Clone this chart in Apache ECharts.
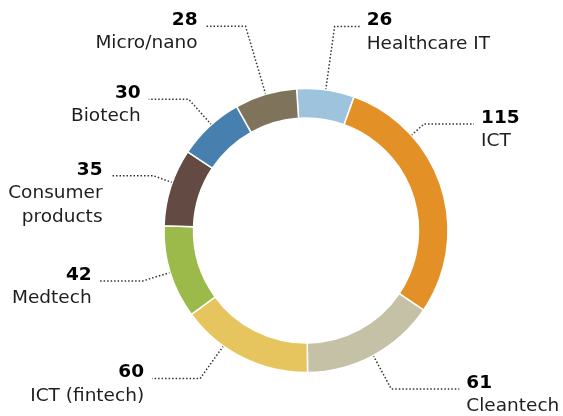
<!DOCTYPE html>
<html>
<head>
<meta charset="utf-8">
<script src="https://cdn.jsdelivr.net/npm/echarts@6/dist/echarts.min.js"></script>
<style>
  html, body { margin: 0; padding: 0; background: #fff; }
  #chart { width: 563px; height: 416px; }
</style>
</head>
<body>
<div id="chart"></div>
<script>
var sectors = ['Healthcare IT', 'ICT', 'Cleantech', 'ICT (fintech)', 'Medtech', 'Consumer\nproducts', 'Biotech', 'Micro/nano'];
var counts = [26, 115, 61, 60, 42, 35, 30, 28];
var colors = ['#9dc3dd', '#e39027', '#c5c1a7', '#e6c55e', '#9cba4a', '#634a42', '#4780ae', '#7f735c'];

// leader lines: angle shift from slice middle (deg), radial length, horizontal length
var leaderShift = [0, -24, 0, 9, 0, 2, 1, 0];
var leaderLen = [64, 17, 38, 40, 29, 20, 34, 71];
var leaderLen2 = [25, 50, 68, 48, 43, 43, 40, 40];

var cx = 306;
var cy = 230.5;
var rOuter = 142;
var rInner = 112.5;
var startAngle = 93.8;

var total = counts.reduce(function sum(a, b) { return a + b; }, 0);

function midAngle(i) {
  var before = 0;
  var k;
  for (k = 0; k < i; k++) {
    before += counts[k];
  }
  // degrees clockwise from 12 o'clock
  return (90 - startAngle) + (before + counts[i] / 2) / total * 360;
}

function labelLayout(params) {
  var i = params.dataIndex;
  var ang = (midAngle(i) + leaderShift[i]) * Math.PI / 180;
  var sx = Math.sin(ang);
  var sy = -Math.cos(ang);
  var right = sx >= 0;
  var a = [cx + rOuter * sx, cy + rOuter * sy];
  var b = [cx + (rOuter + leaderLen[i]) * sx, cy + (rOuter + leaderLen[i]) * sy];
  var c = [b[0] + (right ? 1 : -1) * leaderLen2[i], b[1]];
  return {
    x: c[0] + (right ? 7 : -8),
    y: c[1] - 17,
    align: right ? 'left' : 'right',
    verticalAlign: 'top',
    labelLinePoints: [a, b, c]
  };
}

var myChart = echarts.init(document.getElementById('chart'));

var option = {
  animation: false,
  series: [
    {
      type: 'pie',
      center: [cx, cy],
      radius: [rInner, rOuter],
      startAngle: startAngle,
      clockwise: true,
      avoidLabelOverlap: false,
      emphasis: { disabled: true },
      itemStyle: {
        borderColor: '#fff',
        borderWidth: 1.5
      },
      label: {
        show: true,
        position: 'outside',
        formatter: function fmt(p) {
          return '{v|' + p.value + '}\n{n|' + p.name.split('\n').join('}\n{n|') + '}';
        },
        rich: {
          v: {
            fontFamily: 'DejaVu Sans',
            fontWeight: 'bold',
            fontSize: 18.5,
            lineHeight: 22,
            color: '#000'
          },
          n: {
            fontFamily: 'DejaVu Sans',
            fontSize: 18.5,
            lineHeight: 24.5,
            color: '#1e1e1e'
          }
        }
      },
      labelLine: {
        show: true,
        lineStyle: {
          color: '#333',
          width: 1.5,
          type: [1.5, 2]
        }
      },
      labelLayout: labelLayout,
      data: sectors.map(function each(name, i) {
        return { name: name, value: counts[i], itemStyle: { color: colors[i] } };
      })
    }
  ]
};

myChart.setOption(option);
</script>
</body>
</html>
